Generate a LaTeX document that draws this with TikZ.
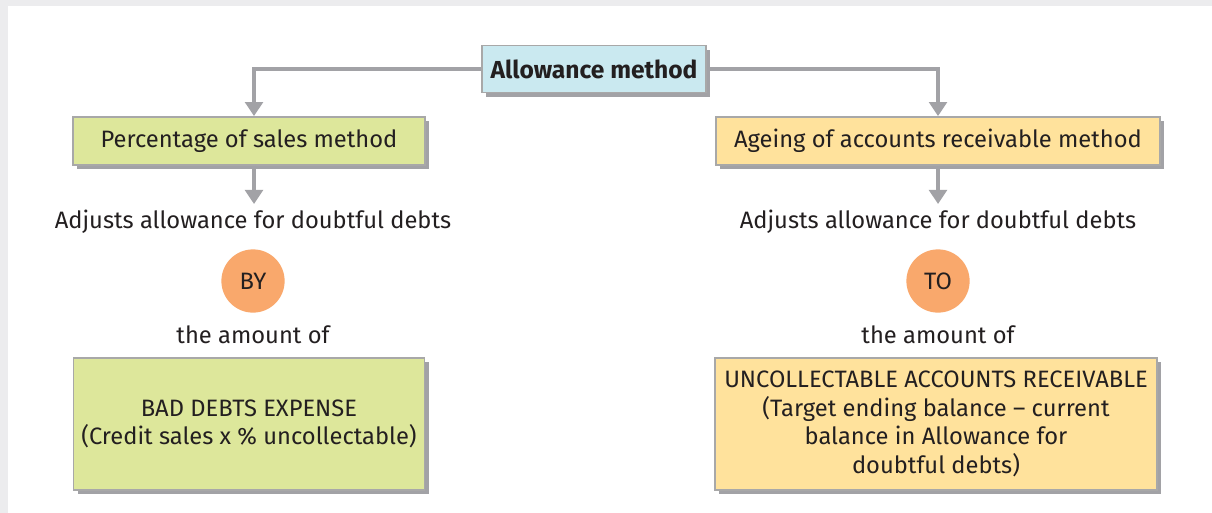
\documentclass[tikz,border=0pt]{standalone}
\usepackage{fontspec}
\setmainfont{Fira Sans}
\usetikzlibrary{arrows.meta,shadows}
\definecolor{framegray}{HTML}{ECECEE}
\definecolor{linegray}{HTML}{A2A2A6}
\definecolor{edgegray}{HTML}{A8A8A8}
\definecolor{headblue}{HTML}{CAE9F0}
\definecolor{methgreen}{HTML}{DDE79B}
\definecolor{methyellow}{HTML}{FFE29C}
\definecolor{dotorange}{HTML}{F9A86C}
\definecolor{inktext}{HTML}{231F20}
\tikzset{
  methbox/.style={draw=edgegray, line width=1pt, inner sep=0pt, align=center,
    text=inktext, font=\fontsize{13.5}{16.2}\selectfont,
    drop shadow={shadow xshift=2.5pt, shadow yshift=-2.5pt, fill=linegray, opacity=1}},
  linkarrow/.style={draw=linegray, line width=2.4pt, -{Triangle[width=10pt,length=8pt]}},
  plaintext/.style={text=inktext, font=\fontsize{13.5}{16.2}\selectfont},
  dot/.style={circle, fill=dotorange, minimum size=36pt, inner sep=0pt,
    text=inktext, font=\fontsize{13.5}{16.2}\selectfont}
}
\begin{document}
\begin{tikzpicture}[x=0.02cm,y=-0.02cm]
	\useasboundingbox (0,0) rectangle (1212,513);
	% frame
	\fill [framegray] (0,0) rectangle (1212,513);
	\fill [white] (8,6) rectangle (1212,513);
	% methods
	\node [methbox, fill=methgreen, minimum width=352*0.02cm, minimum height=48*0.02cm] (perc) at (249,141) {Percentage of sales method};
	\node [methbox, fill=methyellow, minimum width=444*0.02cm, minimum height=48*0.02cm] (age) at (938,141) {Ageing of accounts receivable method};
	\node [methbox, fill=headblue, minimum width=224*0.02cm, minimum height=47*0.02cm,
	  font=\fontsize{14}{16}\bfseries\selectfont] (head) at (594,69) {Allowance method};
	% texts
	\node [plaintext] (adjl) at (253,222) {Adjusts allowance for doubtful debts};
	\node [plaintext] (adjr) at (938,222) {Adjusts allowance for doubtful debts};
	\node [dot] (by) at (253,281) {BY};
	\node [dot] (to) at (938,281) {TO};
	\node [plaintext] (amtl) at (253,335) {the amount of};
	\node [plaintext] (amtr) at (938,335) {the amount of};
	% results
	\node [methbox, fill=methgreen, minimum width=351*0.02cm, minimum height=132*0.02cm] (bad) at (249,424)
	  {BAD DEBTS EXPENSE\\(Credit sales x \% uncollectable)};
	\node [methbox, fill=methyellow, minimum width=442*0.02cm, minimum height=132*0.02cm] (uncol) at (936,424)
	  {UNCOLLECTABLE ACCOUNTS RECEIVABLE\\(Target ending balance -- current\\balance in Allowance for\\doubtful debts)};
	% connectors
	\draw [linkarrow] (head.west) -| ([xshift=5*0.02cm]perc.north);
	\draw [linkarrow] (head.east) -| (age.north);
	\draw [linkarrow] ([xshift=5*0.02cm]perc.south) -- ([xshift=5*0.02cm]perc.south |- adjl.north);
	\draw [linkarrow] (age.south) -- (adjr.north);
\end{tikzpicture}
\end{document}
